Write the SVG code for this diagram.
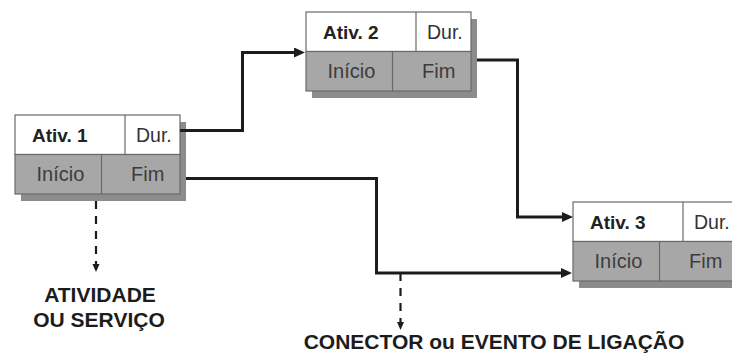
<svg xmlns="http://www.w3.org/2000/svg" width="732" height="354" viewBox="0 0 732 354">
  <style>
    .shadow { fill: #8c8c8c; }
    .top { fill: #ffffff; stroke: #6a6a6a; stroke-width: 1.2; }
    .bottom { fill: #a7a7a7; stroke: #6a6a6a; stroke-width: 1.2; }
    .div { stroke: #6a6a6a; stroke-width: 1.2; }
    .title { font-family: "Liberation Sans", Arial, sans-serif; font-weight: bold; font-size: 19px; fill: #222; }
    .dur { font-family: "Liberation Sans", Arial, sans-serif; font-size: 19.5px; fill: #333; }
    .cell { font-family: "Liberation Sans", Arial, sans-serif; font-size: 20px; fill: #3c3c3c; }
    .link { fill: none; stroke: #1c1c1c; stroke-width: 3; marker-end: url(#arrow); }
    .note { fill: none; stroke: #1c1c1c; stroke-width: 2.2; stroke-dasharray: 8 7; marker-end: url(#small); }
    .label { font-family: "Liberation Sans", Arial, sans-serif; font-weight: bold; font-size: 21px; fill: #1c1c1c; text-anchor: middle; }
  </style>
  <defs>
    <marker id="arrow" markerUnits="userSpaceOnUse" markerWidth="12" markerHeight="11" refX="3" refY="5" orient="auto">
      <path d="M0,0 L11,5 L0,10 Z" fill="#1c1c1c"/>
    </marker>
    <marker id="small" markerUnits="userSpaceOnUse" markerWidth="9" markerHeight="8" refX="2" refY="3.5" orient="auto">
      <path d="M0,0 L8,3.5 L0,7 Z" fill="#1c1c1c"/>
    </marker>
  </defs>
  <rect width="732" height="354" fill="#ffffff"/>

  <!-- activity nodes: drop shadow, header row (name + duration), lower row (start + finish) -->
  <g id="ativ1" transform="translate(15,115)">
    <rect class="shadow" x="6" y="7" width="165" height="79"/>
    <rect class="top" x="0" y="0" width="165" height="39.5"/>
    <rect class="bottom" x="0" y="39.5" width="165" height="39.5"/>
    <line class="div" x1="110" y1="0" x2="110" y2="39.5"/>
    <line class="div" x1="86.5" y1="39.5" x2="86.5" y2="79"/>
    <text class="title" x="17" y="26.5">Ativ. 1</text>
    <text class="dur" x="121" y="26.5">Dur.</text>
    <text class="cell" x="21.5" y="66">Início</text>
    <text class="cell" x="116" y="66">Fim</text>
  </g>

  <g id="ativ2" transform="translate(306,12)">
    <rect class="shadow" x="6" y="7" width="165" height="79"/>
    <rect class="top" x="0" y="0" width="165" height="39.5"/>
    <rect class="bottom" x="0" y="39.5" width="165" height="39.5"/>
    <line class="div" x1="110" y1="0" x2="110" y2="39.5"/>
    <line class="div" x1="86.5" y1="39.5" x2="86.5" y2="79"/>
    <text class="title" x="17" y="26.5">Ativ. 2</text>
    <text class="dur" x="121" y="26.5">Dur.</text>
    <text class="cell" x="21.5" y="66">Início</text>
    <text class="cell" x="116" y="66">Fim</text>
  </g>

  <g id="ativ3" transform="translate(573,202)">
    <rect class="shadow" x="6" y="7" width="165" height="79"/>
    <rect class="top" x="0" y="0" width="165" height="39.5"/>
    <rect class="bottom" x="0" y="39.5" width="165" height="39.5"/>
    <line class="div" x1="110" y1="0" x2="110" y2="39.5"/>
    <line class="div" x1="86.5" y1="39.5" x2="86.5" y2="79"/>
    <text class="title" x="17" y="26.5">Ativ. 3</text>
    <text class="dur" x="121" y="26.5">Dur.</text>
    <text class="cell" x="21.5" y="66">Início</text>
    <text class="cell" x="116" y="66">Fim</text>
  </g>

  <!-- precedence links and annotation pointers -->
  <g id="connectors">
    <path class="link" d="M180,130.5 H242.5 V52.5 H297"/>
    <path class="link" d="M477,60 H517.5 V217 H565"/>
    <path class="link" d="M186,178.5 H376.5 V273 H564"/>
    <path class="note" d="M96,201 V266"/>
    <path class="note" d="M400.5,273 V324"/>
  </g>

  <g id="labels">
    <text class="label" x="100" y="302">ATIVIDADE</text>
    <text class="label" x="99" y="327">OU SERVIÇO</text>
    <text class="label" x="494" y="349">CONECTOR ou EVENTO DE LIGAÇÃO</text>
  </g>
</svg>
